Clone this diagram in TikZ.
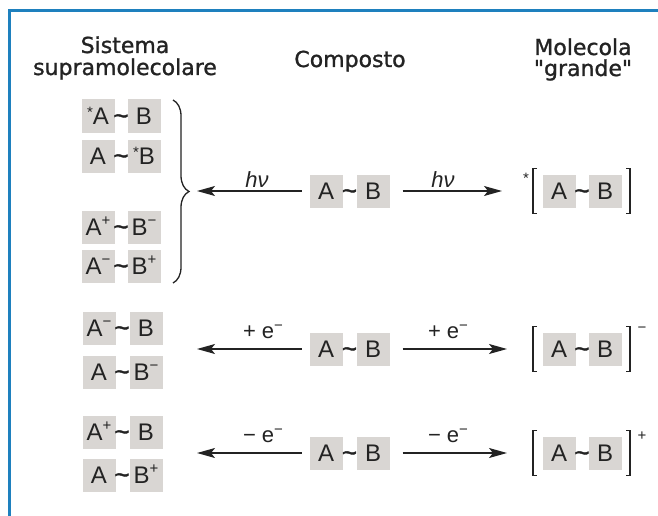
\documentclass[tikz,border=0pt]{standalone}
\usepackage{fontspec}
\setmainfont{Liberation Sans}
\newfontfamily\hdrfont[FakeBold=1.2]{DejaVu Sans}
\newfontfamily\tildefont[FakeBold=1.5]{Liberation Sans}
\usetikzlibrary{arrows.meta,decorations.pathreplacing}
\definecolor{boxgray}{RGB}{217,214,211}
\definecolor{frameblue}{RGB}{30,128,190}
\definecolor{ink}{RGB}{35,35,35}
\newcommand\upsc[2][10pt]{\raisebox{#1}{\fontsize{15}{15}\selectfont #2}}
\begin{document}
\begin{tikzpicture}[x=1pt,y=-1pt,
  bx/.style={fill=boxgray, minimum width=33pt, minimum height=33pt, inner sep=0pt, text height=17pt, text depth=0pt, font=\fontsize{24}{24}\selectfont, text=ink},
  tl/.style={inner sep=0pt, text height=17pt, text depth=0pt, font=\tildefont\fontsize{26}{26}\selectfont, text=ink},
  hdr/.style={font=\hdrfont\fontsize{22}{22}\selectfont, text=ink, inner sep=0pt, anchor=base},
  lbl/.style={font=\fontsize{22}{22}\selectfont, text=ink, inner sep=0pt, anchor=base},
  sup/.style={font=\fontsize{15}{15}\selectfont, text=ink, inner sep=0pt},
  arr/.style={draw=ink, line width=1.3pt, -{Stealth[length=18pt,width=10pt,inset=4pt]}},
  brk/.style={draw=ink, line width=1.3pt},
]
\useasboundingbox (0,0) rectangle (658,516);
% frame
\draw[frameblue, line width=3pt] (9.5,516) -- (9.5,11) -- (658,11);

% headers
\node[hdr] (h1) at (125,53) {Sistema};
\node[hdr] (h2) at (125,75) {supramolecolare};
\node[hdr] (h3) at (350,67) {Composto};
\node[hdr] (h4) at (583,55) {Molecola};
\node[hdr] (h5) at (583,76) {"grande"};

% left column, group 1
\node[bx] (l1a) at (98,116) {\upsc[7pt]{*}A};
\node[tl] (l1t) at (121,116) {\textasciitilde};
\node[bx] (l1b) at (144,116) {B};
\node[bx] (l2a) at (98,156) {A};
\node[tl] (l2t) at (121,156) {\textasciitilde};
\node[bx] (l2b) at (144,156) {\upsc[7pt]{*}B};
\node[bx] (l3a) at (98,227) {A\upsc{+}};
\node[tl] (l3t) at (121,227) {\textasciitilde};
\node[bx] (l3b) at (144,227) {B\upsc{−}};
\node[bx] (l4a) at (98,266) {A\upsc{−}};
\node[tl] (l4t) at (121,266) {\textasciitilde};
\node[bx] (l4b) at (144,266) {B\upsc{+}};
\draw[brk, decorate, decoration={brace, amplitude=16pt}] (173,100) -- (173,283);

% left column, group 2
\node[bx] (l5a) at (99,328) {A\upsc{−}};
\node[tl] (l5t) at (122,328) {\textasciitilde};
\node[bx] (l5b) at (146,328) {B};
\node[bx] (l6a) at (99,372) {A};
\node[tl] (l6t) at (122,372) {\textasciitilde};
\node[bx] (l6b) at (146,372) {B\upsc{−}};

% left column, group 3
\node[bx] (l7a) at (99,432) {A\upsc{+}};
\node[tl] (l7t) at (122,432) {\textasciitilde};
\node[bx] (l7b) at (146,432) {B};
\node[bx] (l8a) at (99,475) {A};
\node[tl] (l8t) at (122,475) {\textasciitilde};
\node[bx] (l8b) at (146,475) {B\upsc{+}};

% centre compounds and "large" molecules
\foreach \r/\y in {1/191,2/349,3/453}{
  \node[bx] (c\r a) at (326,\y) {A};
  \node[tl] (c\r t) at (349.5,\y) {\textasciitilde};
  \node[bx] (c\r b) at (373,\y) {B};
  \node[bx] (r\r a) at (559,\y) {A};
  \node[tl] (r\r t) at (582,\y) {\textasciitilde};
  \node[bx] (r\r b) at (605,\y) {B};
  \draw[brk] (537,\y-22.5) -- (533,\y-22.5) -- (533,\y+22.5) -- (537,\y+22.5);
  \draw[brk] (626,\y-22.5) -- (630,\y-22.5) -- (630,\y+22.5) -- (626,\y+22.5);
}
\node[sup] (st) at (526,178) {*};
\node[sup] (sm) at (642,330) {−};
\node[sup] (sp) at (642,436) {+};

% arrow end points
\coordinate (L1) at (197,191);
\coordinate (R1) at (502,191);
\coordinate (L2) at (197,349);
\coordinate (R2) at (507,349);
\coordinate (L3) at (197,453);
\coordinate (R3) at (507,453);

\draw[arr, shorten <=7.5pt] (c1a.west) -- (L1);
\draw[arr, shorten <=13pt] (c1b.east) -- (R1);
\draw[arr, shorten <=7.5pt] (c2a.west) -- (L2);
\draw[arr, shorten <=13pt] (c2b.east) -- (R2);
\draw[arr, shorten <=7.5pt] (c3a.west) -- (L3);
\draw[arr, shorten <=13pt] (c3b.east) -- (R3);

% labels
\node[lbl] (t1) at (257,187) {\itshape hν};
\node[lbl] (t2) at (443,187) {\itshape hν};
\node[lbl] (t3) at (263,338) {+ e\upsc[8pt]{−}};
\node[lbl] (t4) at (448,338) {+ e\upsc[8pt]{−}};
\node[lbl] (t5) at (263,442) {− e\upsc[8pt]{−}};
\node[lbl] (t6) at (448,442) {− e\upsc[8pt]{−}};
\end{tikzpicture}
\end{document}
